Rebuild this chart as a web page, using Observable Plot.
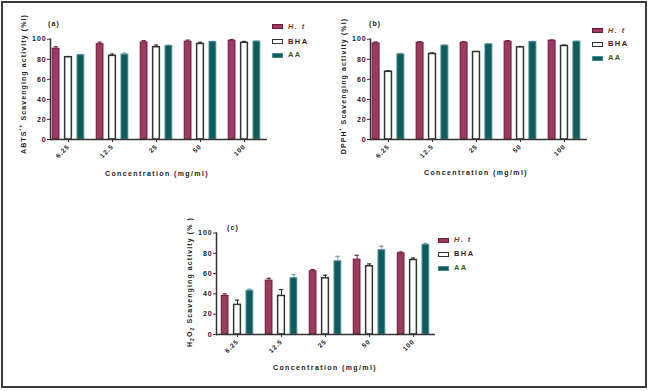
<!DOCTYPE html>
<html><head><meta charset="utf-8">
<script src="https://cdn.jsdelivr.net/npm/d3@7"></script>
<script src="https://cdn.jsdelivr.net/npm/@observablehq/plot@0.6"></script>
<style>
body{margin:0;background:#fff;}
#root{position:relative;width:649px;height:391px;overflow:hidden;background:#fff;font-family:"Liberation Sans",Arial,sans-serif;}
#border{position:absolute;left:1px;top:1px;width:646px;height:387px;box-sizing:border-box;border:2px solid #3a3a3a;}
.panel{position:absolute;}
.t{position:absolute;font-weight:bold;font-size:7px;letter-spacing:1.1px;color:#222;white-space:nowrap;line-height:1;}
.ytitle{transform:translate(-50%,-50%) rotate(-90deg);}
.xtitle{transform:translate(-50%,-50%);letter-spacing:1.4px;}
.sw{position:absolute;width:11px;height:5px;box-sizing:border-box;border:1.5px solid;}
.lg{position:absolute;font-weight:bold;font-size:7.5px;letter-spacing:1.4px;line-height:1;transform:translateY(-50%);white-space:nowrap;}
sup,sub{font-size:5px;line-height:0;}
</style></head><body><div id="root"><div id="border"></div></div>
<script>
// ---- data ----
const concentrations = ["6.25", "12.5", "25", "50", "100"];
const seriesNames = ["H. t", "BHA", "AA"];

// (a) ABTS scavenging activity (%)
const abtsHt = [90.5, 95, 96.8, 97.5, 98.5];
const abtsHtErr = [2, 2, 1.8, 1.6, 1.2];
const abtsBHA = [82, 83.4, 92, 95.3, 96.4];
const abtsBHAErr = [0.8, 1.8, 2.2, 1.6, 1.4];
const abtsAA = [84, 84.6, 93.2, 97.3, 97.6];
const abtsAAErr = [0.8, 1.6, 0.8, 0.5, 0.5];

// (b) DPPH scavenging activity (%)
const dpphHt = [95.8, 96.5, 96.5, 97.5, 98.5];
const dpphHtErr = [1.4, 1, 1, 1, 0.7];
const dpphBHA = [67.5, 85.2, 87.2, 91.8, 93.2];
const dpphBHAErr = [1.1, 1.1, 0.6, 1, 1];
const dpphAA = [84.8, 93.5, 94.8, 97.2, 97.5];
const dpphAAErr = [1, 0.7, 0.7, 0.7, 0.5];

// (c) H2O2 scavenging activity (%)
const h2o2Ht = [38, 53.1, 62.3, 73.8, 80];
const h2o2HtErr = [2, 2.3, 1.7, 4.2, 1.3];
const h2o2BHA = [29.2, 38, 55.4, 67.2, 73.4];
const h2o2BHAErr = [4.6, 6.3, 3, 2.3, 2];
const h2o2AA = [43, 55.4, 72.1, 83, 88.2];
const h2o2AAErr = [1.6, 3.6, 4.9, 3.9, 1.6];

const yTicks = [0, 20, 40, 60, 80, 100];

// ---- styles ----
const seriesStyle = [
  {fill: "#9d3a60", stroke: "#6b1b3d", err: "#7a2446", dx: -12.4, sw: 1},
  {fill: "#ffffff", stroke: "#333333", err: "#333333", dx: 0, sw: 1.5},
  {fill: "#0c5d60", stroke: "#4f8790", err: "#6f9fa6", dx: 12.4, sw: 1}
];

function rows(vals, errs) {
  return concentrations.map((c, i) => ({conc: c, v: vals[i], e: errs[i]}));
}

function panel(cfg) {
  const step = (cfg.xRange[1] - cfg.xRange[0]) / concentrations.length;
  const barInset = (step - 7.5) / 2;
  const capInset = (step - 5) / 2;
  const marks = [];
  cfg.series.forEach((s, k) => {
    const st = seriesStyle[k];
    const data = rows(s[0], s[1]);
    marks.push(Plot.ruleX(data, {x: "conc", y1: "v", y2: d => d.v + d.e, dx: st.dx, stroke: st.err, strokeWidth: 1}));
    marks.push(Plot.tickY(data, {x: "conc", y: d => d.v + d.e, dx: st.dx, insetLeft: capInset, insetRight: capInset, stroke: st.err, strokeWidth: 1.2}));
    marks.push(Plot.barY(data, {x: "conc", y: "v", dx: st.dx, insetLeft: barInset, insetRight: barInset, fill: st.fill, stroke: st.stroke, strokeWidth: st.sw}));
  });
  marks.push(Plot.ruleY([0], {stroke: "#333", strokeWidth: 1.5}));
  marks.push(Plot.frame({anchor: "left", stroke: "#333", strokeWidth: 1.5}));
  marks.push(Plot.axisY({ticks: yTicks, tickSize: 3, tickPadding: 1, fontSize: 7, label: null, stroke: "#333", fill: "#222"}));
  marks.push(Plot.axisX({tickRotate: -45, tickSize: 3, tickPadding: 3, fontSize: 6.5, label: null, stroke: "#333", fill: "#222"}));
  const chart = Plot.plot({
    width: cfg.width, height: cfg.height,
    marginLeft: cfg.ml, marginRight: cfg.mr, marginTop: cfg.mt, marginBottom: cfg.mb,
    x: {type: "band", domain: concentrations, range: cfg.xRange, padding: 0},
    y: {domain: [0, 100]},
    style: {fontFamily: "'Liberation Sans', Arial, sans-serif", fontWeight: "bold", background: "transparent", letterSpacing: "0.9px"},
    marks
  });
  const div = document.createElement("div");
  div.className = "panel";
  div.style.left = cfg.left + "px";
  div.style.top = cfg.top + "px";
  div.appendChild(chart);
  document.getElementById("root").appendChild(div);
}

panel({left: 0, top: 0, width: 325, height: 190, ml: 50, mr: 58, mt: 38.7, mb: 51, xRange: [44.6, 268.4],
  series: [[abtsHt, abtsHtErr], [abtsBHA, abtsBHAErr], [abtsAA, abtsAAErr]]});
panel({left: 320, top: 0, width: 329, height: 190, ml: 50, mr: 62, mt: 38.7, mb: 51, xRange: [44.7, 267.6],
  series: [[dpphHt, dpphHtErr], [dpphBHA, dpphBHAErr], [dpphAA, dpphAAErr]]});
panel({left: 150, top: 190, width: 300, height: 200, ml: 66, mr: 15, mt: 42.5, mb: 56, xRange: [63.1, 286.9],
  series: [[h2o2Ht, h2o2HtErr], [h2o2BHA, h2o2BHAErr], [h2o2AA, h2o2AAErr]]});

// ---- text: titles, panel labels, legends ----
const root = document.getElementById("root");
function addText(html, cls, x, y, extra) {
  const d = document.createElement("div");
  d.className = "t " + cls;
  d.innerHTML = html;
  d.style.left = x + "px";
  d.style.top = y + "px";
  if (extra) Object.assign(d.style, extra);
  root.appendChild(d);
}
addText("(a)", "", 48, 20);
addText("(b)", "", 369, 20);
addText("(c)", "", 227, 224);
addText("ABTS<sup>•+</sup> Scavenging activity (%I)", "ytitle", 23, 84);
addText("DPPH<sup>•</sup> Scavenging activity (%I)", "ytitle", 343, 86);
addText("H<sub>2</sub>O<sub>2</sub> Scavenging activity (% )", "ytitle", 189, 282);
addText("Concentration (mg/ml)", "xtitle", 157, 173);
addText("Concentration (mg/ml)", "xtitle", 476, 172);
addText("Concentration (mg/ml)", "xtitle", 325, 367);

const legendText = [
  {color: "#8a3a22", style: "italic"},
  {color: "#4d0f2c", style: "normal"},
  {color: "#3a5a1c", style: "normal"}
];
function legend(x, ys) {
  seriesNames.forEach((name, k) => {
    const sw = document.createElement("div");
    sw.className = "sw";
    sw.style.left = x + "px";
    sw.style.top = (ys[k] - 2.5) + "px";
    sw.style.background = seriesStyle[k].fill;
    sw.style.borderColor = seriesStyle[k].stroke;
    root.appendChild(sw);
    const t = document.createElement("div");
    t.className = "lg";
    t.textContent = name;
    t.style.left = (x + 16) + "px";
    t.style.top = ys[k] + "px";
    t.style.color = legendText[k].color;
    t.style.fontStyle = legendText[k].style;
    root.appendChild(t);
  });
}
legend(272, [26.5, 41.5, 55]);
legend(592, [30.5, 44, 58]);
legend(438, [240, 254, 268]);
</script></body></html>
